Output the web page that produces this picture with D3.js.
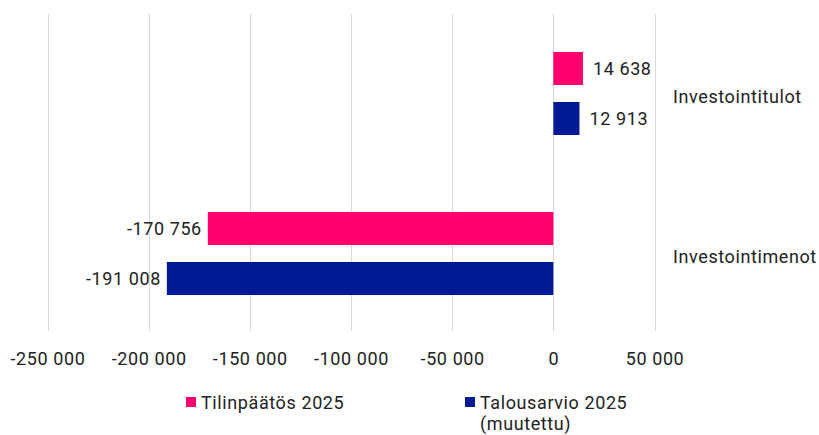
<!DOCTYPE html>
<html>
<head>
<meta charset="utf-8">
<script src="https://cdn.jsdelivr.net/npm/d3@7"></script>
<style>
  body { margin: 0; background: #fff; }
  svg text { font-family: Roboto, "Noto Sans", sans-serif; fill: #222; }
</style>
</head>
<body>
<div id="chart"></div>
<script>
// data
const categories = ['Investointitulot', 'Investointimenot'];
const seriesNames = ['Tilinpäätös 2025', 'Talousarvio 2025 (muutettu)'];
const tilinpaatos = [14638, -170756];
const talousarvio = [12913, -191008];
const xTicks = [-250000, -200000, -150000, -100000, -50000, 0, 50000];
const colors = ['#ff006e', '#001a96'];

const width = 819, height = 435;
const FONT = '18px';
const SPACING = '0.6px';
const fmt = (v) => {
  const s = Math.abs(v).toString().replace(/\B(?=(\d{3})+(?!\d))/g, ' ');
  return (v < 0 ? '-' : '') + s;
};

const svg = d3.select('#chart').append('svg')
  .attr('width', width)
  .attr('height', height);

const x = d3.scaleLinear()
  .domain([-250000, 50000])
  .range([47.5, 654.5]);

const y = d3.scaleBand()
  .domain(categories)
  .range([13.5, 333.5]);

// two bars per category, 33px tall with a 17px gap
const inner = d3.scaleBand()
  .domain(seriesNames)
  .range([38.5, y.bandwidth() - 38.5])
  .paddingInner(0.34);

// gridlines
svg.append('g')
  .selectAll('line')
  .data(xTicks)
  .enter().append('line')
  .attr('x1', (d) => Math.round(x(d)) + 0.5)
  .attr('x2', (d) => Math.round(x(d)) + 0.5)
  .attr('y1', 14)
  .attr('y2', 331)
  .attr('stroke', '#d9d9d9')
  .attr('stroke-width', 1);

// x axis labels
const xAxis = d3.axisBottom(x).tickValues(xTicks).tickFormat(fmt).tickSize(0).tickPadding(0);
const ax = svg.append('g')
  .attr('transform', 'translate(0, 359)')
  .call(xAxis);
ax.select('.domain').remove();
ax.selectAll('text')
  .attr('dy', '0.35em')
  .style('font-size', FONT)
  .style('letter-spacing', SPACING)
  .style('fill', '#222');

const rows = [tilinpaatos, talousarvio];
rows.forEach((vals, si) => {
  const g = svg.append('g');
  g.selectAll('rect')
    .data(vals)
    .enter().append('rect')
    .attr('x', (d) => x(Math.min(0, d)))
    .attr('width', (d) => Math.abs(x(d) - x(0)))
    .attr('y', (d, i) => y(categories[i]) + inner(seriesNames[si]))
    .attr('height', inner.bandwidth())
    .attr('fill', colors[si]);

  g.selectAll('text')
    .data(vals)
    .enter().append('text')
    .attr('x', (d) => d < 0 ? x(d) - 6 : x(d) + 10)
    .attr('y', (d, i) => y(categories[i]) + inner(seriesNames[si]) + inner.bandwidth() / 2)
    .attr('dy', '0.35em')
    .attr('text-anchor', (d) => d < 0 ? 'end' : 'start')
    .style('font-size', FONT)
    .style('letter-spacing', SPACING)
    .text(fmt);
});

// category labels
svg.append('g')
  .selectAll('text')
  .data(categories)
  .enter().append('text')
  .attr('x', 673)
  .attr('y', (d) => y(d) + y.bandwidth() / 2 + 3)
  .attr('dy', '0.35em')
  .style('font-size', FONT)
  .style('letter-spacing', SPACING)
  .text((d) => d);

// legend
const legend = [
  { lines: ['Tilinpäätös 2025'], x: 186 },
  { lines: ['Talousarvio 2025', '(muutettu)'], x: 465 },
];
legend.forEach((l, i) => {
  const g = svg.append('g').attr('transform', 'translate(' + l.x + ', 397)');
  g.append('rect')
    .attr('width', 10)
    .attr('height', 10)
    .attr('fill', colors[i]);
  g.selectAll('text')
    .data(l.lines)
    .enter().append('text')
    .attr('x', 15)
    .attr('y', (d, j) => 6 + j * 21)
    .attr('dy', '0.35em')
    .style('font-size', FONT)
    .style('letter-spacing', SPACING)
    .text((d) => d);
});
</script>
</body>
</html>
